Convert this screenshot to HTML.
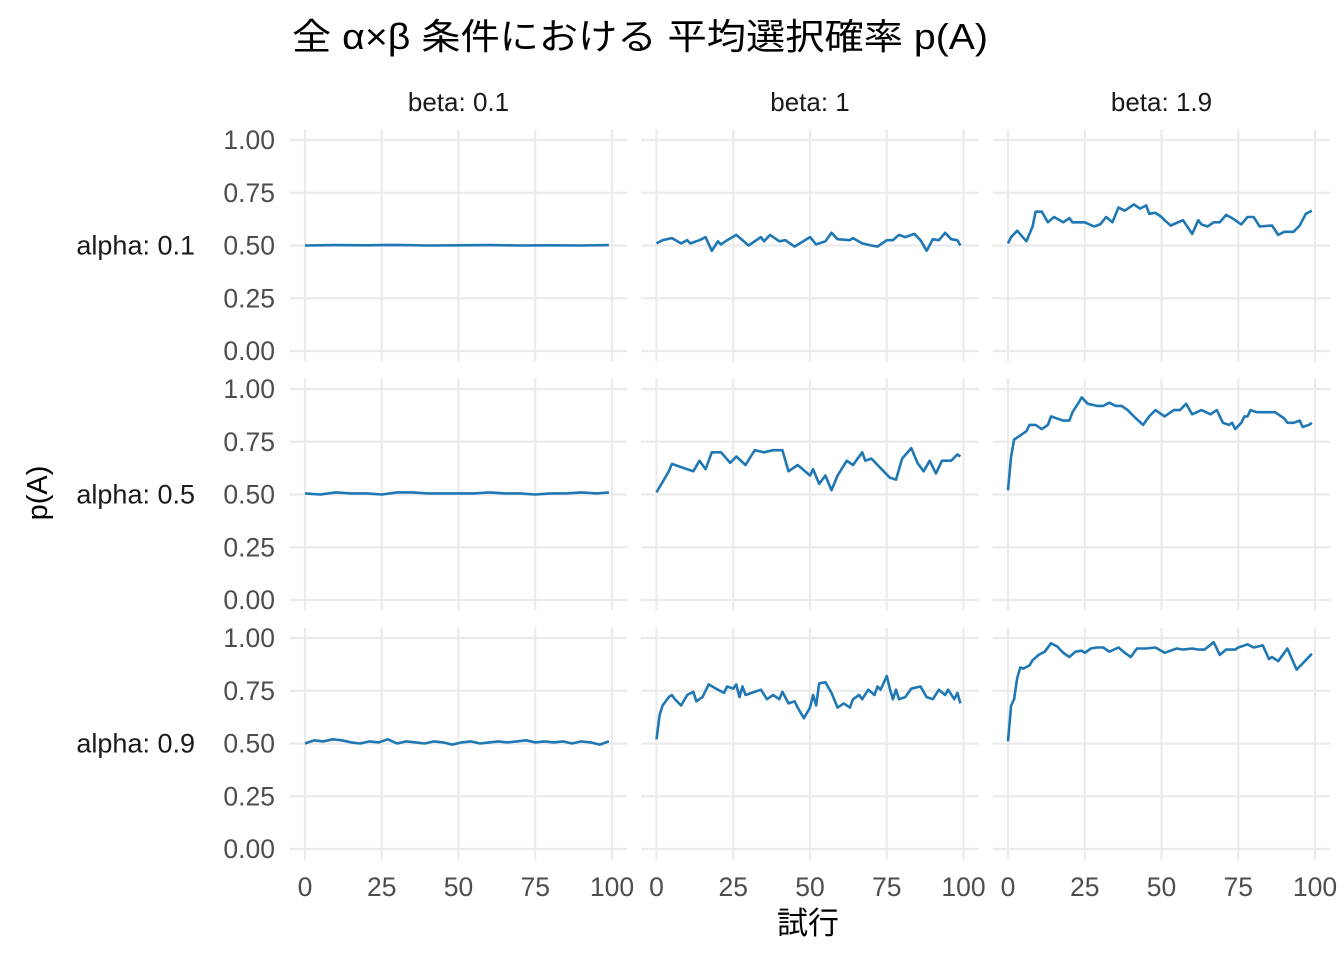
<!DOCTYPE html>
<html><head><meta charset="utf-8">
<style>
html,body{margin:0;padding:0;background:#fff;}
svg{display:block;font-family:"Liberation Sans","Noto Sans CJK JP",sans-serif;}
</style></head>
<body>
<svg id="chart" width="1344" height="960" viewBox="0 0 1344 960">
<text x="292" y="49" font-size="36" textLength="696" lengthAdjust="spacingAndGlyphs" fill="#000">全 α×β 条件における 平均選択確率 p(A)</text>
<text transform="translate(47,493) rotate(-90)" text-anchor="middle" font-size="29" fill="#000">p(A)</text>
<text x="808" y="934" text-anchor="middle" font-size="31" fill="#000">試行</text>
<g id="panels"></g>
</svg>
<script>
const betaLabels = ["beta: 0.1","beta: 1","beta: 1.9"];
const alphaLabels = ["alpha: 0.1","alpha: 0.5","alpha: 0.9"];
const xTicks = [0,25,50,75,100];
const yTicks = [0,0.25,0.5,0.75,1];
const yTickLabels = ["0.00","0.25","0.50","0.75","1.00"];

const t_a1b01 = [0,10,20,30,40,50,60,70,80,90,99];
const v_a1b01 = [0.50,0.502,0.501,0.503,0.500,0.501,0.502,0.500,0.501,0.500,0.502];
const t_a1b1 = [0,2,5,8,10,11,14,16,18,20,21,23,26,30,34,35,37,40,42,45,50,52,55,57,59,63,64,67,70,72,75,77,79,81,84,86,88,90,92,94,96,98,99];
const v_a1b1 = [0.51,0.525,0.535,0.51,0.525,0.51,0.525,0.54,0.475,0.52,0.505,0.525,0.55,0.50,0.54,0.52,0.55,0.52,0.525,0.495,0.54,0.505,0.52,0.56,0.53,0.525,0.535,0.51,0.50,0.495,0.525,0.525,0.55,0.54,0.555,0.525,0.475,0.53,0.525,0.56,0.53,0.525,0.50];
const t_a1b19 = [0,1,3,6,8,9,11,13,15,18,20,21,23,25,28,30,32,34,36,38,41,43,45,46,48,50,51,53,57,60,62,63,65,67,69,71,73,76,78,80,82,86,88,90,93,95,97,99];
const v_a1b19 = [0.51,0.54,0.57,0.52,0.59,0.66,0.66,0.61,0.635,0.61,0.63,0.61,0.61,0.61,0.59,0.60,0.635,0.61,0.68,0.665,0.695,0.675,0.69,0.65,0.655,0.635,0.62,0.595,0.62,0.555,0.62,0.60,0.59,0.61,0.61,0.645,0.63,0.60,0.635,0.635,0.59,0.595,0.55,0.565,0.565,0.595,0.65,0.665];

const t_a5b01 = [0,5,10,15,20,25,30,35,40,45,50,55,60,65,70,75,80,85,90,95,99];
const v_a5b01 = [0.505,0.50,0.51,0.505,0.505,0.50,0.51,0.51,0.505,0.505,0.505,0.505,0.51,0.505,0.505,0.50,0.505,0.505,0.51,0.505,0.51];
const t_a5b1 = [0,4,5,8,12,14,16,18,21,24,26,29,32,35,38,41,43,46,50,51,53,55,57,59,62,64,67,68,70,74,76,78,80,83,85,87,89,91,93,96,98,99];
const v_a5b1 = [0.51,0.61,0.645,0.63,0.61,0.66,0.62,0.70,0.70,0.65,0.68,0.64,0.71,0.70,0.71,0.71,0.61,0.64,0.59,0.62,0.55,0.59,0.52,0.59,0.66,0.64,0.70,0.66,0.67,0.61,0.58,0.57,0.67,0.72,0.65,0.61,0.66,0.60,0.66,0.66,0.69,0.68];
const t_a5b19 = [0,1,2,4,6,7,9,11,13,14,16,18,20,21,23,24,26,29,31,33,35,37,39,41,44,46,48,51,54,56,58,60,63,66,68,70,72,73,74,76,77,78,79,81,84,87,90,91,93,95,96,98,99];
const v_a5b19 = [0.52,0.68,0.76,0.78,0.80,0.83,0.83,0.81,0.83,0.87,0.86,0.85,0.85,0.89,0.935,0.96,0.93,0.92,0.92,0.935,0.92,0.92,0.90,0.87,0.83,0.87,0.90,0.87,0.90,0.90,0.93,0.88,0.90,0.88,0.90,0.84,0.83,0.84,0.81,0.84,0.87,0.87,0.90,0.89,0.89,0.89,0.86,0.84,0.84,0.85,0.82,0.83,0.84];

const t_a9b01 = [0,3,6,9,12,15,18,21,24,27,30,33,36,39,42,45,48,51,54,57,60,63,66,69,72,75,78,81,84,87,90,93,96,99];
const v_a9b01 = [0.50,0.515,0.51,0.52,0.515,0.505,0.50,0.51,0.505,0.52,0.50,0.51,0.505,0.50,0.51,0.505,0.495,0.505,0.51,0.50,0.505,0.51,0.505,0.51,0.515,0.505,0.51,0.505,0.51,0.50,0.51,0.505,0.495,0.51];
const t_a9b1 = [0,1,2,4,5,6,8,10,12,13,15,17,20,22,23,25,26,27,28,29,31,34,36,38,40,41,43,45,46,48,50,51,52,53,55,57,59,61,63,64,66,67,69,71,72,73,75,76,77,78,79,81,83,86,88,90,92,94,95,97,98,99];
const v_a9b1 = [0.52,0.635,0.68,0.72,0.73,0.71,0.68,0.73,0.745,0.70,0.72,0.78,0.755,0.74,0.77,0.76,0.78,0.72,0.77,0.73,0.74,0.755,0.71,0.73,0.71,0.745,0.69,0.70,0.67,0.62,0.67,0.73,0.68,0.785,0.79,0.74,0.67,0.69,0.67,0.71,0.73,0.71,0.755,0.73,0.77,0.755,0.82,0.76,0.71,0.755,0.71,0.72,0.76,0.77,0.72,0.71,0.755,0.73,0.755,0.71,0.74,0.69];
const t_a9b19 = [0,1,2,3,4,5,7,8,10,12,14,16,18,20,22,24,25,27,29,31,33,36,38,40,42,45,48,51,55,57,60,62,64,67,69,71,74,75,78,80,83,85,86,88,91,94,97,99];
const v_a9b19 = [0.51,0.68,0.71,0.81,0.86,0.855,0.87,0.895,0.92,0.935,0.975,0.96,0.93,0.91,0.935,0.94,0.93,0.95,0.955,0.955,0.935,0.955,0.93,0.91,0.95,0.95,0.955,0.93,0.95,0.945,0.95,0.945,0.945,0.98,0.92,0.945,0.945,0.955,0.97,0.955,0.965,0.90,0.91,0.89,0.95,0.85,0.895,0.925];

const seriesT = [[t_a1b01,t_a1b1,t_a1b19],[t_a5b01,t_a5b1,t_a5b19],[t_a9b01,t_a9b1,t_a9b19]];
const seriesV = [[v_a1b01,v_a1b1,v_a1b19],[v_a5b01,v_a5b1,v_a5b19],[v_a9b01,v_a9b1,v_a9b19]];

const NS = "http://www.w3.org/2000/svg";
const root = document.getElementById("panels");
const colX0 = [305,656.5,1008];
const xScaleK = 3.07;
const rowY1 = [140,389,638];
const yScaleK = 211;
function sx(c,v){return colX0[c]+v*xScaleK;}
function sy(r,v){return rowY1[r]+(1-v)*yScaleK;}
function mk(tag,attrs){const e=document.createElementNS(NS,tag);for(const k in attrs)e.setAttribute(k,attrs[k]);return e;}

for(let c=0;c<3;c++){
  const s = mk("text",{x:sx(c,50),y:111,"text-anchor":"middle","font-size":26,fill:"#1a1a1a"});
  s.textContent = betaLabels[c];
  
  
  root.appendChild(s);
}
for(let r=0;r<3;r++){
  const a = mk("text",{x:195,y:sy(r,0.5)+9,"text-anchor":"end","font-size":27,fill:"#1a1a1a"});
  a.textContent = alphaLabels[r];
  
  
  root.appendChild(a);
  yTicks.forEach((v,i)=>{
    const t = mk("text",{x:275,y:sy(r,v)+9,"text-anchor":"end","font-size":26.5,fill:"#4d4d4d"});
    t.textContent = yTickLabels[i];
    
    
    root.appendChild(t);
  });
  for(let c=0;c<3;c++){
    const g = mk("g",{});
    
    
    const xl = sx(c,-5), xr = sx(c,105), yt = sy(r,1.05), yb = sy(r,-0.05);
    yTicks.forEach(v=>{
      const l = mk("line",{x1:xl,x2:xr,y1:sy(r,v),y2:sy(r,v),stroke:"#ebebeb","stroke-width":2.2});
      
      
      g.appendChild(l);
    });
    xTicks.forEach(v=>{
      const l = mk("line",{x1:sx(c,v),x2:sx(c,v),y1:yt,y2:yb,stroke:"#ebebeb","stroke-width":2.2});
      
      
      g.appendChild(l);
    });
    const T = seriesT[r][c], V = seriesV[r][c];
    const d = T.map((t,i)=>(i?"L":"M")+sx(c,t).toFixed(1)+","+sy(r,V[i]).toFixed(1)).join(" ");
    const p = mk("path",{d:d,fill:"none",stroke:"#1f77b4","stroke-width":2.6,"stroke-linejoin":"round"});
    
    
    g.appendChild(p);
    root.appendChild(g);
  }
}
for(let c=0;c<3;c++){
  xTicks.forEach(v=>{
    const t = mk("text",{x:sx(c,v),y:896,"text-anchor":"middle","font-size":26.5,fill:"#4d4d4d"});
    t.textContent = v;
    
    
    root.appendChild(t);
  });
}
</script>
</body></html>
